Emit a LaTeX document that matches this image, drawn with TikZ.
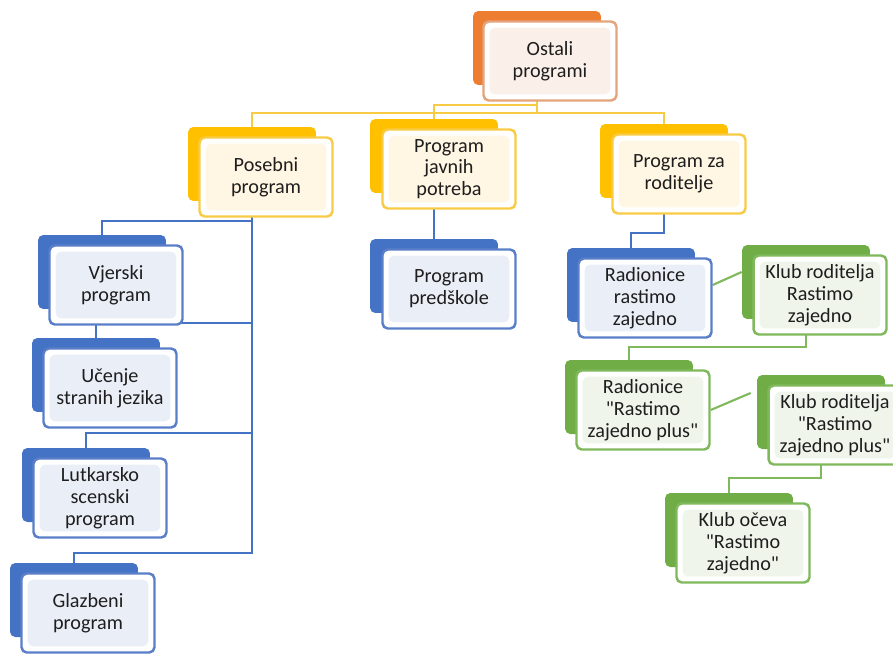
\documentclass[tikz,border=0pt]{standalone}
\usepackage{fontspec}
\setmainfont{Carlito}
\usetikzlibrary{calc,backgrounds}

\definecolor{orangeback}{HTML}{ED7D31}
\definecolor{orangeline}{HTML}{E4A47C}
\definecolor{orangetint}{HTML}{FBEFE9}
\definecolor{yellowback}{HTML}{FFC000}
\definecolor{yellowline}{HTML}{F8CB45}
\definecolor{yellowtint}{HTML}{FFF6E3}
\definecolor{blueback}{HTML}{4472C4}
\definecolor{blueline}{HTML}{5A7FC8}
\definecolor{bluetint}{HTML}{EAEEF7}
\definecolor{greenback}{HTML}{70AD47}
\definecolor{greenline}{HTML}{80B85C}
\definecolor{greentint}{HTML}{EFF5EB}
\definecolor{textgray}{HTML}{1E1E1E}

\newcommand{\qq}{\textquotedbl}

\tikzset{
	backbox/.style={rounded corners=3pt, minimum width=2.56cm, minimum height=1.48cm, fill=#1},
	frontbox/.style 2 args={rounded corners=3pt, minimum width=2.66cm, minimum height=1.58cm,
		draw=#1, line width=1.4pt, fill=white, align=center, inner sep=2pt,
		font=\fontsize{11.5}{12.4}\selectfont, text=textgray,
		path picture={\fill[#2] ([shift={(3.5pt,3.5pt)}]path picture bounding box.south west)
			rectangle ([shift={(-3.5pt,-3.5pt)}]path picture bounding box.north east);}},
	yconn/.style={draw=yellowline, line width=1.2pt},
	bconn/.style={draw=blueback, line width=1.2pt},
	gconn/.style={draw=greenline, line width=1.2pt},
}

\begin{document}
\begin{tikzpicture}[x=0.02cm, y=-0.02cm]
	\path[use as bounding box, clip] (0,0) rectangle (893,653);

	% top
	\node[backbox=orangeback] (ostali-b) at (537,48) {};
	\node[frontbox={orangeline}{orangetint}] (ostali) at ([shift={(13,13)}]ostali-b) {Ostali\\programi};

	% second row
	\node[backbox=yellowback] (posebni-b) at (252,164) {};
	\node[frontbox={yellowline}{yellowtint}] (posebni) at ([shift={(14,13)}]posebni-b) {Posebni\\program};
	\node[backbox=yellowback] (javnih-b) at (434,156) {};
	\node[frontbox={yellowline}{yellowtint}] (javnih) at ([shift={(15,13)}]javnih-b) {Program\\javnih\\potreba};
	\node[backbox=yellowback] (roditelji-b) at (664,161) {};
	\node[frontbox={yellowline}{yellowtint}] (roditelji) at ([shift={(15,13)}]roditelji-b) {Program za\\roditelje};

	% left column
	\node[backbox=blueback] (vjerski-b) at (102,272) {};
	\node[frontbox={blueline}{bluetint}] (vjerski) at ([shift={(14,13)}]vjerski-b) {Vjerski\\program};
	\node[backbox=blueback] (ucenje-b) at (96,375) {};
	\node[frontbox={blueline}{bluetint}] (ucenje) at ([shift={(14,13)}]ucenje-b) {Učenje\\stranih jezika};
	\node[backbox=blueback] (lutkarsko-b) at (86,485) {};
	\node[frontbox={blueline}{bluetint}] (lutkarsko) at ([shift={(14,13)}]lutkarsko-b) {Lutkarsko\\scenski\\program};
	\node[backbox=blueback] (glazbeni-b) at (74,600) {};
	\node[frontbox={blueline}{bluetint}] (glazbeni) at ([shift={(14,13)}]glazbeni-b) {Glazbeni\\program};

	\node[backbox=blueback] (predskole-b) at (434,276) {};
	\node[frontbox={blueline}{bluetint}] (predskole) at ([shift={(15,13)}]predskole-b) {Program\\predškole};

	% right side
	\node[backbox=blueback] (radionice-b) at (631,285) {};
	\node[frontbox={blueline}{bluetint}] (radionice) at ([shift={(14,13)}]radionice-b) {Radionice\\rastimo\\zajedno};
	\node[backbox=greenback] (klubrz-b) at (806,282) {};
	\node[frontbox={greenline}{greentint}] (klubrz) at ([shift={(14,13)}]klubrz-b) {Klub roditelja\\Rastimo\\zajedno};
	\node[backbox=greenback] (rplus-b) at (629,397) {};
	\node[frontbox={greenline}{greentint}] (rplus) at ([shift={(14,13)}]rplus-b) {Radionice\\\qq Rastimo\\zajedno plus\qq};
	\node[backbox=greenback] (krzp-b) at (821,412) {};
	\node[frontbox={greenline}{greentint}] (krzp) at ([shift={(14,13)}]krzp-b) {Klub roditelja\\\qq Rastimo\\zajedno plus\qq};
	\node[backbox=greenback] (ocevi-b) at (729,530) {};
	\node[frontbox={greenline}{greentint}] (ocevi) at ([shift={(14,13)}]ocevi-b) {Klub očeva\\\qq Rastimo\\zajedno\qq};

	\begin{scope}[on background layer]
		\coordinate (ybar) at (0,113);
		\coordinate (yjog) at (0,105);
		\draw[yconn] (ostali-b.south) -- (ostali-b.south |- ybar) -| (posebni-b.north);
		\draw[yconn] (ostali-b.south |- ybar) -| (roditelji-b.north);
		\draw[yconn] (ostali-b.south) -- (ostali-b.south |- yjog) -| (javnih-b.north);

		\foreach \child/\lvl in {vjerski/221, ucenje/323, lutkarsko/433, glazbeni/553}
			\draw[bconn] (posebni-b.south) -- (posebni-b.south |- 0,\lvl) -| (\child-b.north);
		\draw[bconn] (javnih-b.south) -- (predskole-b.north);
		\draw[bconn] (roditelji-b.south) -- (roditelji-b.south |- 0,233) -| (radionice-b.north);

		\draw[gconn] ($(radionice.east)+(0,-13)$) -- ($(klubrz-b.west)+(0,-10)$);
		\draw[gconn] (klubrz-b.south) -- (klubrz-b.south |- 0,347) -| (rplus-b.north);
		\draw[gconn] (rplus.east) -- ($(krzp-b.west)+(-6,-19)$);
		\draw[gconn] (krzp-b.south) -- (krzp-b.south |- 0,478) -| (ocevi-b.north);
	\end{scope}
\end{tikzpicture}
\end{document}
